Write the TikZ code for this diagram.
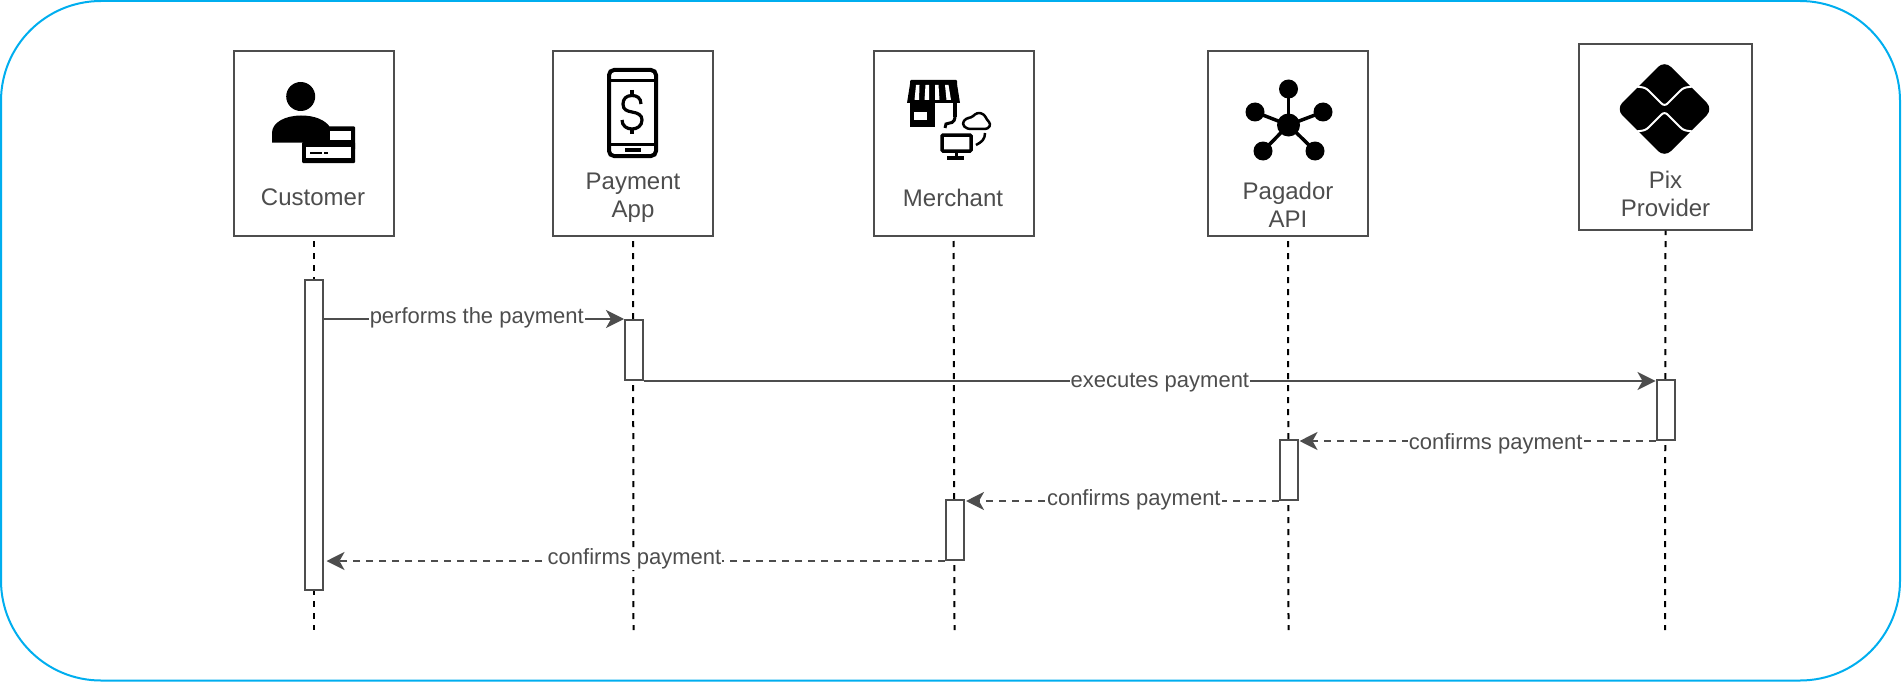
\documentclass[tikz,border=0pt]{standalone}
\usepackage{fontspec}
\setmainfont{Liberation Sans}
\usetikzlibrary{arrows.meta,calc}
\definecolor{ink}{HTML}{4D4D4D}
\definecolor{frameblue}{HTML}{00AEEF}
\tikzset{
  actor/.style={draw=ink,line width=2pt,fill=white,rectangle,inner sep=0pt,minimum width=#1,minimum height=185pt},
  actor/.default=160pt,
  actlabel/.style={text=ink,align=center,inner sep=0pt,font=\fontsize{24}{28}\selectfont},
  lifeline/.style={black,line width=2pt,dash pattern=on 6pt off 6pt,dash phase=#1},
  lifeline/.default=8pt,
  activation/.style={draw=ink,line width=2pt,fill=white,rectangle,inner sep=0pt,minimum width=#1},
  msg/.style={draw=ink,line width=2pt,-{Stealth[length=18pt,width=18pt,inset=5pt]}},
  reply/.style={msg,dash pattern=on 7pt off 6pt},
  msglabel/.style={fill=white,text=ink,inner sep=1pt,font=\fontsize{22}{26}\selectfont},
}
\begin{document}
\begin{tikzpicture}[x=1pt,y=-1pt]
\useasboundingbox (0,0) rectangle (1902,682);
\draw[frameblue,line width=2pt,rounded corners=100pt,fill=white] (1,1) rectangle (1900,680.5);

% actors
\node[actor] (cust) at (313.5,143.5) {};
\node[actor] (app) at (633,143.5) {};
\node[actor] (merch) at (953.5,143.5) {};
\node[actor] (api) at (1288,143.5) {};
\node[actor=173pt] (pix) at (1665.5,137) {};
\node[actlabel] (custt) at (313,197.5) {Customer};
\node[actlabel] (appt) at (633,197.5) {Payment\\App};
\node[actlabel] (mercht) at (953,197.5) {Merchant};
\node[actlabel] (apit) at (1288,204.5) {Pagador\\API};
\node[actlabel] (pixt) at (1665.5,193.5) {Pix\\Provider};

% life lines
\coordinate (custend) at (313.5,630);
\coordinate (append) at (633.5,630);
\coordinate (merchend) at (954.5,630);
\coordinate (apiend) at (1288.5,630);
\coordinate (pixend) at (1665,630);
\draw[lifeline] (cust.south) -- (custend);
\draw[lifeline] (app.south) -- (append);
\draw[lifeline] (merch.south) -- (merchend);
\draw[lifeline] (api.south) -- (apiend);
\draw[lifeline=1.5pt] (pix.south) -- (pixend);

% activations
\node[activation=18pt,minimum height=310pt] (bc) at (313.5,435) {};
\node[activation=18pt,minimum height=60pt] (ba) at (634,350) {};
\node[activation=18pt,minimum height=60pt] (bx) at (1665.5,410) {};
\node[activation=18pt,minimum height=60pt] (bp) at (1288.5,470) {};
\node[activation=18pt,minimum height=60pt] (bm) at (955,530) {};

% messages
\draw[msg] (bc.east |- ba.north west) -- node[msglabel,pos=.51,yshift=1pt] (l1) {performs the payment} (ba.north west);
\draw[msg] (ba.south east) -- node[msglabel,pos=.51,yshift=-2pt] (l2) {executes payment} (ba.south east -| bx.north west);
\draw[reply] (bx.south west) -- node[msglabel,pos=.449,yshift=-3pt] (l3) {confirms payment} ($(bx.south west -| bp.east)+(1,0)$);
\draw[reply] (bp.south west) -- node[msglabel,pos=.463,yshift=1pt] (l4) {confirms payment} ($(bp.south west -| bm.east)+(1,0)$);
\draw[reply] (bm.south west) -- node[msglabel,pos=.502,yshift=2pt] (l5) {confirms payment} ($(bm.south west -| bc.east)+(3,0)$);

% customer icon
\fill[black] (300.7,96.5) circle (14.5);
\fill[black] (272,142.5) -- (272,133) .. controls (272,122) and (286,115.5) .. (301,115.5) .. controls (315,115.5) and (325,120) .. (330,127) -- (330,142.5) -- cycle;
\fill[black,rounded corners=1pt] (302,142) rectangle (355,163);
\fill[black,rounded corners=1pt] (329,126.5) rectangle (355,150);
\fill[white] (330,131) rectangle (351,140);
\fill[white] (306,147) rectangle (351,158);
\fill[black] (310,152) rectangle (322,154);
\fill[black] (324,152) rectangle (328,154);

% phone icon
\draw[black,line width=4pt,rounded corners=5pt] (609,70) rectangle (656,156);
\draw[black,line width=3pt] (609,81) -- (656,81);
\draw[black,line width=3pt] (609,144) -- (656,144);
\fill[black] (625,148) rectangle (641,152);
\draw[black,line width=3.2pt] (641,104) .. controls (641,98) and (637,95.5) .. (632,95.5) .. controls (626,95.5) and (623,99) .. (623,104) .. controls (623,110) and (627,111) .. (632,112) .. controls (638,113) and (642,115) .. (642,120) .. controls (642,126) and (637,129) .. (632,129) .. controls (627,129) and (622,126) .. (622,120);
\draw[black,line width=3.2pt] (632,90) -- (632,95.5);
\draw[black,line width=3.2pt] (632,129) -- (632,134);

% store + cloud icon
\fill[black,rounded corners=1pt] (910,80) rectangle (957,85);
\fill[black] (910,84) -- (957,84) -- (960,103) -- (907,103) -- cycle;
\foreach \xt/\xb in {916/915,925.5/925,935/935.5,945/947} {
  \fill[white] (\xt,85) -- (\xt+3.5,85) -- (\xb+4,100) -- (\xb-.5,100) -- cycle;
}
\fill[black] (910,103) rectangle (914,127);
\fill[black] (910,103) rectangle (935,112);
\fill[black] (910,120) rectangle (935,127);
\fill[black] (927,103) rectangle (935,127);
\fill[black] (953,103) rectangle (957,117);
\draw[black,line width=3pt] (955,115) .. controls (955,125) and (950,122) .. (946,124) -- (945,128);
\draw[black,line width=2.5pt,line join=round,rounded corners=3pt] (967,129) -- (962,124) -- (966,118) -- (971,118) -- (977,112.5) -- (984,114) -- (987,120) -- (991,124) -- (988,129) -- cycle;
\draw[black,line width=3.5pt,rounded corners=1pt] (942,135) rectangle (971,151);
\draw[black,line width=3pt] (956.5,151) -- (956.5,157);
\draw[black,line width=3.5pt] (947,158) -- (964,158);
\draw[black,line width=2.5pt] (985,133) .. controls (985,139) and (982,142) .. (976,145);

% network icon
\foreach \x/\y in {1288.5/89,1255/112,1323/112,1263/151,1315/151} {
  \draw[black,line width=3.5pt] (1288.5,125) -- (\x,\y);
  \fill[black] (\x,\y) circle (9.5);
}
\fill[black] (1288.5,125) circle (11.5);

% pix icon
\fill[black,rounded corners=9pt] (1664.5,60.5) -- (1713,109) -- (1664.5,157.5) -- (1616,109) -- cycle;
\draw[white,line width=2pt] (1632,86) -- (1640,87) .. controls (1644,87.5) and (1646,88) .. (1649,91) -- (1661,103) .. controls (1663,105.5) and (1666,105.5) .. (1668,103) -- (1680,91) .. controls (1683,88) and (1685,87.5) .. (1689,87) -- (1697,86);
\draw[white,line width=2pt] (1632,132) -- (1640,131) .. controls (1644,130.5) and (1646,130) .. (1649,127) -- (1661,115) .. controls (1663,112.5) and (1666,112.5) .. (1668,115) -- (1680,127) .. controls (1683,130) and (1685,130.5) .. (1689,131) -- (1697,132);
\end{tikzpicture}
\end{document}
